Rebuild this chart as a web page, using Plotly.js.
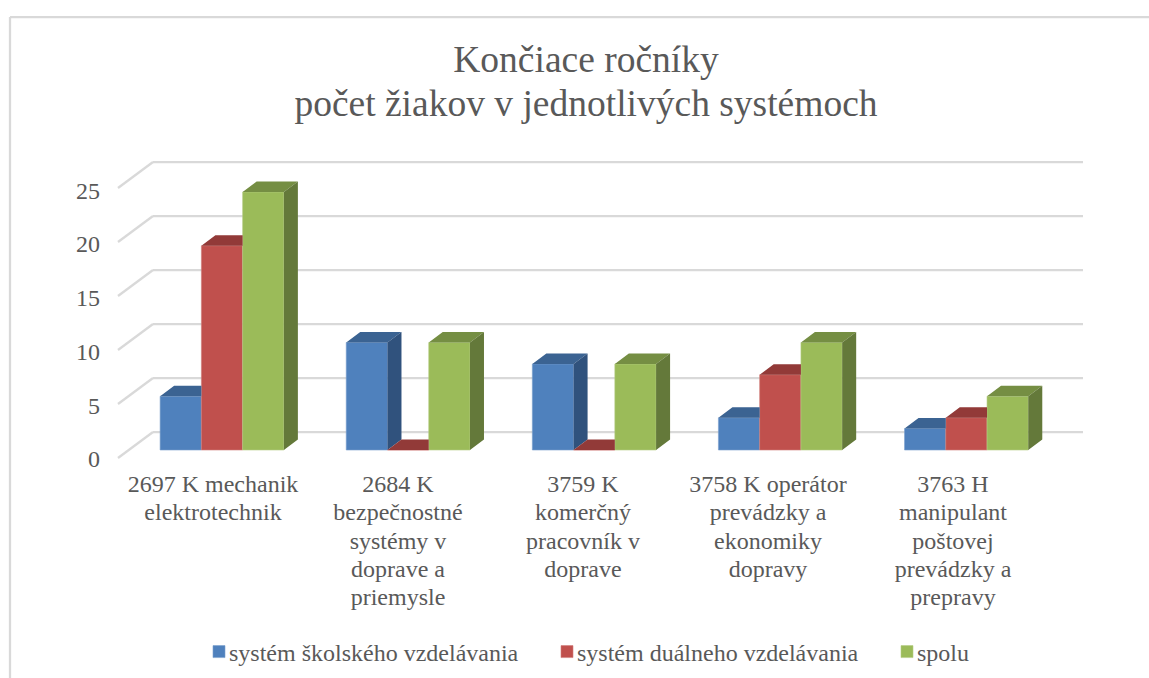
<!DOCTYPE html>
<html>
<head>
<meta charset="utf-8">
<script src="https://cdn.plot.ly/plotly-3.0.1.min.js"></script>
<style>html,body{margin:0;padding:0;background:#fff}</style>
</head>
<body>
<div id="chart" style="width:1149px;height:678px"></div>
<script>
const categories = [
  "2697 K mechanik<br>elektrotechnik",
  "2684 K<br>bezpečnostné<br>systémy v<br>doprave a<br>priemysle",
  "3759 K<br>komerčný<br>pracovník v<br>doprave",
  "3758 K operátor<br>prevádzky a<br>ekonomiky<br>dopravy",
  "3763 H<br>manipulant<br>poštovej<br>prevádzky a<br>prepravy"
];
const seriesNames = ["systém školského vzdelávania", "systém duálneho vzdelávania", "spolu"];
const skolske = [5, 10, 8, 3, 2];
const dualne = [19, 0, 0, 7, 3];
const spolu = [24, 10, 8, 10, 5];
const yTicks = [0, 5, 10, 15, 20, 25];
const frontColors = ["#4f81bd", "#c0504d", "#9bbb59"];
const edgeColors = ["#7ba0cd", "#d07d7b", "#b5cd85"];
const topColors = ["#3b6392", "#923a38", "#758e43"];
const sideColors = ["#30527d", "#7d3230", "#64793a"];

const W = 1149, H = 678;
const mL = 108, mR = 49, mT = 150, mB = 208;
const plotW = W - mL - mR, plotH = H - mT - mB;
const pxPerCat = 186.1, pxPerUnit = 10.75, gridPxPerUnit = 10.8, labelPxPerCat = 185;
const x0Px = 222, y0Px = 450;
const xRange = [(mL - x0Px) / pxPerCat, (W - mR - x0Px) / pxPerCat];
const yRange = [(y0Px - (H - mB)) / pxPerUnit, (y0Px - mT) / pxPerUnit];
const depthX = 14 / pxPerCat, depthY = 10.5 / pxPerUnit;
const barW = 41.25 / pxPerCat;
const paperX = px => (px - mL) / plotW;
const paperY = py => (H - mB - py) / plotH;

const seriesValues = [skolske, dualne, spolu];
const catIdx = categories.map((_, i) => i);
const traces = [];

seriesValues.forEach((vals, s) => {
  traces.push({
    type: "bar", name: seriesNames[s], x: catIdx, y: vals, width: barW,
    offset: (s - 1.5) * barW,
    marker: {color: frontColors[s], line: {color: edgeColors[s], width: 0.6}},
    hoverinfo: "skip", legend: s === 0 ? "legend" : "legend" + (s + 1), showlegend: true
  });
});

seriesValues.forEach((vals, s) => {
  const tx = [], ty = [], sx = [], sy = [];
  vals.forEach((v, i) => {
    const xl = i + (s - 1.5) * barW, xr = xl + barW;
    const next = s < 2 ? seriesValues[s + 1][i] : null;
    const hidden = next !== null && next >= v + depthY;
    const topRight = hidden ? xr : xr + depthX;
    tx.push(xl, xl + depthX, topRight, xr, xl, null);
    ty.push(v, v + depthY, v + depthY, v, v, null);
    if (next === null || next < v) {
      const low = next === null ? 0 : next;
      sx.push(xr, xr + depthX, xr + depthX, xr, xr, null);
      sy.push(v, v + depthY, low + depthY, low, v, null);
    }
  });
  traces.push({type: "scatter", mode: "lines", x: tx, y: ty, fill: "toself", fillcolor: topColors[s],
    line: {width: 0}, hoverinfo: "skip", showlegend: false});
  if (sx.length) traces.push({type: "scatter", mode: "lines", x: sx, y: sy, fill: "toself", fillcolor: sideColors[s],
    line: {width: 0}, hoverinfo: "skip", showlegend: false});
});

// Gridlines: floor/wall perspective, derived from the axis ticks
const gridFrontX = (118 - x0Px) / pxPerCat, gridBackX = (153 - x0Px) / pxPerCat, gridEndX = (1083 - x0Px) / pxPerCat;
const gridY = (v, floorPx) => (y0Px - floorPx + v * gridPxPerUnit) / pxPerUnit;
const gridStyle = {color: "#d9d9d9", width: 2.25};
const shapes = [];
yTicks.forEach(v => {
  shapes.push({type: "line", layer: "below", xref: "x", yref: "y", x0: gridFrontX, y0: gridY(v, 458), x1: gridBackX, y1: gridY(v, 432), line: gridStyle});
  shapes.push({type: "line", layer: "below", xref: "x", yref: "y", x0: gridBackX, y0: gridY(v, 432), x1: gridEndX, y1: gridY(v, 432), line: gridStyle});
});
// Chart-frame remnants at the top and left edges
shapes.push({type: "line", xref: "paper", yref: "paper", x0: paperX(10), y0: paperY(17), x1: paperX(W), y1: paperY(17), line: gridStyle});
shapes.push({type: "line", xref: "paper", yref: "paper", x0: paperX(10), y0: paperY(17), x1: paperX(10), y1: paperY(H), line: gridStyle});

const FONT = "Liberation Serif, Times New Roman, serif";
const legendBase = {orientation: "h", xanchor: "left", yanchor: "middle", bgcolor: "rgba(0,0,0,0)",
  font: {family: FONT, size: 24, color: "#595959"}, y: paperY(652)};

const layout = {
  width: W, height: H,
  margin: {l: mL, r: mR, t: mT, b: mB, pad: 0, autoexpand: false},
  paper_bgcolor: "#ffffff", plot_bgcolor: "rgba(0,0,0,0)",
  title: {text: "Končiace ročníky<br>počet žiakov v jednotlivých systémoch",
    font: {family: FONT, size: 37.5, color: "#595959"},
    x: 586 / W, xanchor: "center", y: 1 - 72 / H, yanchor: "middle"},
  barmode: "overlay",
  xaxis: {range: xRange, tickmode: "array", tickvals: catIdx.map(i => i * labelPxPerCat / pxPerCat), ticktext: categories, tickangle: 0,
    showgrid: false, zeroline: false, showline: false, ticks: "",
    ticklabelshift: -9, ticklabelstandoff: -3,
    tickfont: {family: FONT, size: 24, color: "#595959"}},
  yaxis: {range: yRange, tickmode: "array", tickvals: yTicks, ticktext: yTicks.map(String),
    showgrid: false, zeroline: false, showline: false, ticks: "",
    ticklabelshift: 9, ticklabelstandoff: 7,
    tickfont: {family: FONT, size: 24, color: "#595959"}},
  shapes: shapes,
  showlegend: true,
  legend: Object.assign({x: paperX(189)}, legendBase),
  legend2: Object.assign({x: paperX(537)}, legendBase),
  legend3: Object.assign({x: paperX(877)}, legendBase)
};

Plotly.newPlot("chart", traces, layout, {displayModeBar: false, staticPlot: true}).then(gd => {
  gd.querySelectorAll(".legendsymbols").forEach(g => g.setAttribute("transform", "translate(10,0)"));
  // Single-spaced multi-line labels, as in the original
  gd.querySelectorAll(".xtick text, .gtitle").forEach(t => {
    t.querySelectorAll("tspan.line").forEach((l, i) => l.setAttribute("dy", (i * 1.18) + "em"));
  });
});
</script>
</body>
</html>
